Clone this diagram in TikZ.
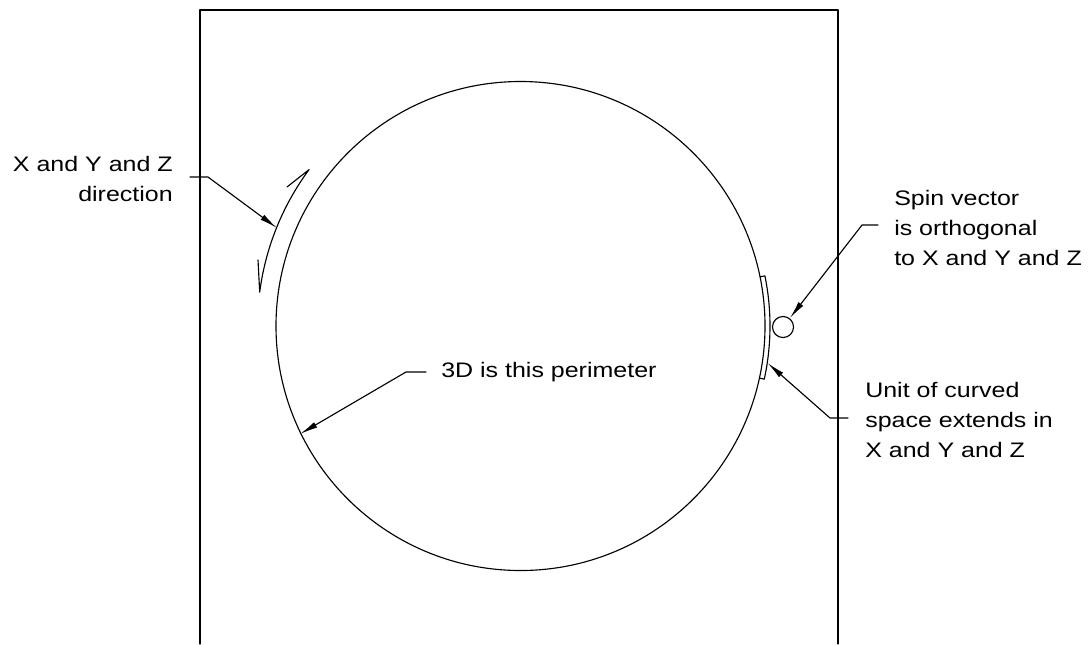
\documentclass[tikz,border=0pt]{standalone}
\usepackage{fontspec}
\setmainfont{Liberation Sans}[FakeStretch=1.19]
\usetikzlibrary{arrows.meta,calc}
\tikzset{
  ln/.style={line width=0.85pt, line cap=round, line join=round},
  lead/.style={ln, -{Latex[length=13.5pt,width=4.6pt]}},
  lbl/.style={inner sep=0pt, font=\fontsize{15.75}{22.5}\selectfont},
}
\begin{document}
\begin{tikzpicture}[x=0.75pt,y=0.75pt]
\useasboundingbox (0,0) rectangle (1091,-644);
% frame (open at bottom)
\coordinate (fbl) at (200,-644);
\coordinate (ftr) at (838,-10);
\coordinate (fbr) at (838,-644);
\draw[ln] (fbl) |- (ftr) -- (fbr);
% main circle
\coordinate (C) at (520.5,-326);
\draw[ln] (C) circle[radius=244.5];
% direction arc with harpoon ends
\coordinate (bA) at (287,-187);
\coordinate (bB) at (258,-260);
\draw[ln] (bA) -- ($(C)+(143.5:263)$) arc[start angle=143.5, end angle=172.6, radius=263] -- (bB);
% unit of curved space strip
\draw[ln] ($(C)+(11.6:244.5)$) -- ($(C)+(11.6:249.5)$) arc[start angle=11.6, end angle=-12.3, radius=249.5] -- ($(C)+(-12.3:244.5)$);
% spin vector circle
\node[circle, draw, line width=0.85pt, minimum size=15.8pt, inner sep=0pt] (spin) at (783,-327) {};
% labels (base anchor = baseline of last line)
\node[lbl, align=right, anchor=base east] (tdir) at (173,-201) {X and Y and Z\\direction};
\node[lbl, align=left, anchor=base west] (tspin) at (894,-265) {Spin vector\\is orthogonal\\to X and Y and Z};
\node[lbl, align=left, anchor=base west] (tunit) at (865,-457) {Unit of curved\\space extends in\\X and Y and Z};
\node[lbl, anchor=base west] (tper) at (441,-377) {3D is this perimeter};
% leader end coordinates
\coordinate (dA) at (190,-177);
\coordinate (dB) at (208,-177);
\coordinate (dT) at (277,-228);
\coordinate (sA) at (878,-225);
\coordinate (sB) at (862,-225);
\coordinate (uA) at (848,-418);
\coordinate (uB) at (830,-418);
\coordinate (uT) at (767.5,-363);
\coordinate (pA) at (426,-372);
\coordinate (pB) at (406,-372);
\coordinate (pT) at (300,-434);
% leaders
\draw[lead] (dA) -- (dB) -- (dT);
\draw[lead] (sA) -- (sB) -- (spin);
\draw[lead] (uA) -- (uB) -- (uT);
\draw[lead] (pA) -- (pB) -- (pT);
\end{tikzpicture}
\end{document}
